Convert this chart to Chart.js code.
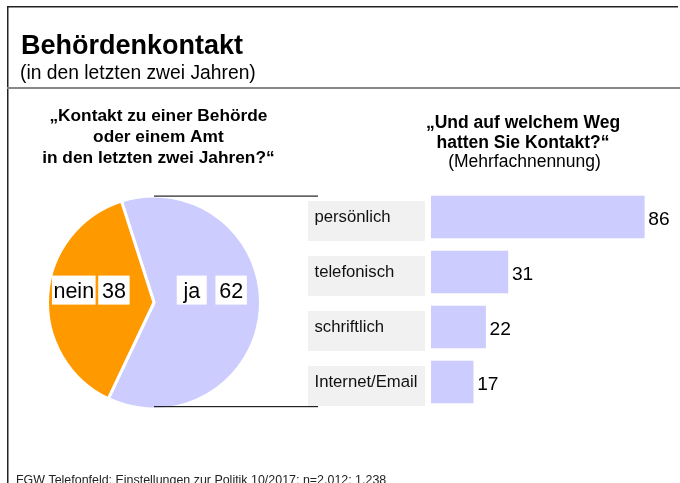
<!DOCTYPE html>
<html><head><meta charset="utf-8">
<script src="https://cdn.jsdelivr.net/npm/chart.js@4.4.1/dist/chart.umd.min.js"></script>
<style>
html,body{margin:0;padding:0;background:#fff;}
#wrap{position:relative;width:680px;height:483px;overflow:hidden;background:#fff;}
canvas{position:absolute;left:0;top:0;}
</style></head><body>
<div id="wrap"><canvas id="pie" width="680" height="483"></canvas><canvas id="bar" width="680" height="483"></canvas></div>
<script>
const pieLabels = ['ja', 'nein'];
const pieValues = [62, 38];
const pieColors = ['#ccccff', '#ff9900'];
const barCategories = ['persönlich', 'telefonisch', 'schriftlich', 'Internet/Email'];
const barValues = [86, 31, 22, 17];
const titleText = 'Behördenkontakt';
const subtitleText = '(in den letzten zwei Jahren)';
const pieQuestion = ['„Kontakt zu einer Behörde', 'oder einem Amt', 'in den letzten zwei Jahren?“'];
const barQuestion = ['„Und auf welchem Weg', 'hatten Sie Kontakt?“'];
const barNote = '(Mehrfachnennung)';
const footerText = 'FGW Telefonfeld: Einstellungen zur Politik 10/2017; n=2.012; 1.238';

const FF = '"Liberation Sans", Arial, Helvetica, sans-serif';

const pieLabelPlugin = {
  id: 'pieLabels',
  afterDatasetsDraw(chart) {
    const ctx = chart.ctx;
    const meta = chart.getDatasetMeta(0);
    const gaps = [8.7, 2.6];
    ctx.save();
    ctx.font = '21.5px ' + FF;
    meta.data.forEach((arc, i) => {
      const p = arc.getProps(['x', 'y', 'startAngle', 'endAngle', 'outerRadius'], true);
      const mid = (p.startAngle + p.endAngle) / 2;
      const ax = p.x + Math.cos(mid) * 105 * 0.545;
      const cy = p.y - 12.4;
      const lab = pieLabels[i];
      const val = String(pieValues[i]);
      const lw = Math.max(ctx.measureText(lab).width + 3, 30);
      const vw = ctx.measureText(val).width + 7.5;
      const g = gaps[i];
      const lx = ax - g / 2 - lw;
      const vx = ax + g / 2;
      ctx.fillStyle = '#ffffff';
      ctx.fillRect(lx, cy - 14.5, lw, 29);
      ctx.fillRect(vx, cy - 14.5, vw, 29);
      ctx.fillStyle = '#000000';
      ctx.textAlign = 'center';
      ctx.textBaseline = 'alphabetic';
      ctx.fillText(lab, lx + lw / 2, cy + 7.7);
      ctx.fillText(val, vx + vw / 2, cy + 7.7);
    });
    ctx.restore();
  }
};

new Chart(document.getElementById('pie'), {
  type: 'pie',
  data: {
    labels: pieLabels,
    datasets: [{
      data: pieValues,
      backgroundColor: pieColors,
      borderColor: '#ffffff',
      borderWidth: 3,
      rotation: -17.8
    }]
  },
  options: {
    responsive: false,
    animation: false,
    radius: 106.5,
    layout: { padding: { left: 49, right: 421, top: 197.5, bottom: 75.5 } },
    plugins: { legend: { display: false }, tooltip: { enabled: false } }
  },
  plugins: [pieLabelPlugin]
});

const decorPlugin = {
  id: 'decor',
  beforeDatasetsDraw(chart) {
    const ctx = chart.ctx;
    const meta = chart.getDatasetMeta(0);
    ctx.save();
    // category boxes
    meta.data.forEach((bar) => {
      ctx.fillStyle = '#f1f1f1';
      ctx.fillRect(308, bar.y - 16, 117, 40);
    });
    ctx.restore();
  },
  afterDatasetsDraw(chart) {
    const ctx = chart.ctx;
    const meta = chart.getDatasetMeta(0);
    ctx.save();
    // frame
    ctx.fillStyle = '#222';
    ctx.fillRect(7, 6, 671, 1.5);
    ctx.fillRect(7, 6, 1.5, 477);
    ctx.fillStyle = '#888';
    ctx.fillRect(7, 87, 673, 2);
    // connection lines
    ctx.fillStyle = '#222';
    ctx.fillRect(154, 195.5, 164, 1.2);
    ctx.fillRect(154, 406, 164, 1.2);
    ctx.textBaseline = 'alphabetic';
    ctx.fillStyle = '#000';
    // title
    ctx.textAlign = 'left';
    ctx.font = 'bold 27px ' + FF;
    ctx.fillText(titleText, 21, 54);
    ctx.font = '19.3px ' + FF;
    ctx.fillText(subtitleText, 20, 79);
    // pie question
    ctx.textAlign = 'center';
    ctx.font = 'bold 17.3px ' + FF;
    const pb = [121, 142, 163];
    pieQuestion.forEach((t, i) => ctx.fillText(t, 158.4, pb[i]));
    ctx.font = 'bold 17.5px ' + FF;
    ctx.fillText(barQuestion[0], 523, 127.5);
    ctx.fillText(barQuestion[1], 523, 147.5);
    ctx.font = '17.5px ' + FF;
    ctx.fillText(barNote, 524.5, 166.5);
    // category labels and values
    ctx.textAlign = 'left';
    meta.data.forEach((bar, i) => {
      ctx.fillStyle = '#111';
      ctx.font = '16.7px ' + FF;
      ctx.fillText(barCategories[i], 314.5, bar.y + 4.5);
      ctx.font = '19.2px ' + FF;
      ctx.fillStyle = '#000';
      ctx.fillText(String(barValues[i]), bar.x + 4, bar.y + 8);
    });
    // footer
    ctx.fillStyle = '#222';
    ctx.font = '12.45px ' + FF;
    ctx.fillText(footerText, 16, 484);
    ctx.restore();
  }
};

new Chart(document.getElementById('bar'), {
  type: 'bar',
  data: {
    labels: barCategories,
    datasets: [{
      data: barValues,
      backgroundColor: '#ccccff',
      borderWidth: 0,
      barThickness: 42
    }]
  },
  options: {
    indexAxis: 'y',
    responsive: false,
    animation: false,
    layout: { padding: { left: 431, right: 1, top: 189.5, bottom: 73.5 } },
    scales: {
      x: { display: false, min: 0, max: 100 },
      y: { display: false }
    },
    plugins: { legend: { display: false }, tooltip: { enabled: false } }
  },
  plugins: [decorPlugin]
});
</script>
</body></html>
